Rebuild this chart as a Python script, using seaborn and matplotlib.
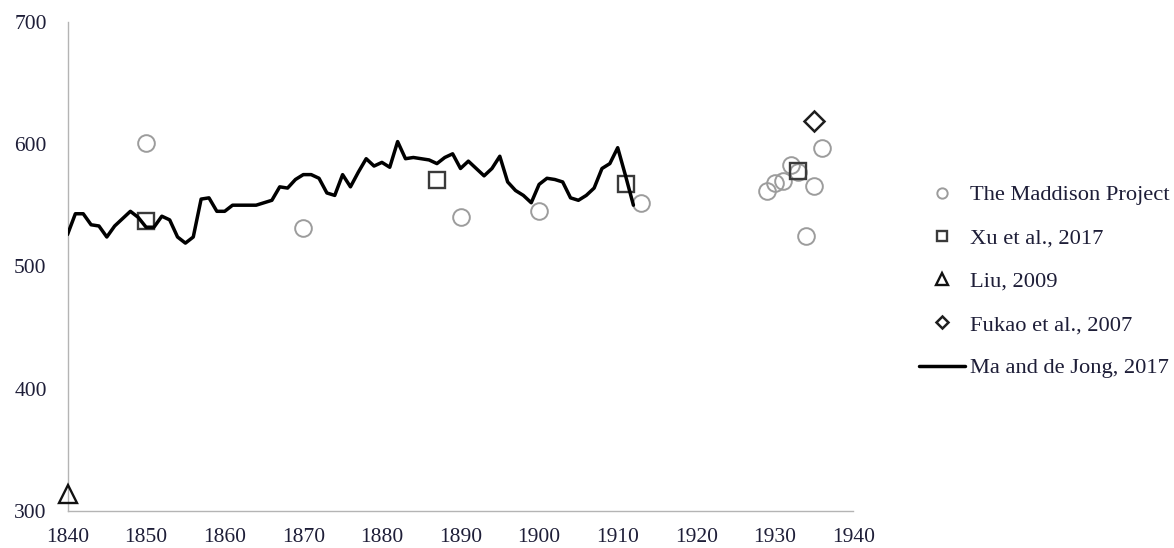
import matplotlib
matplotlib.use("Agg")
import matplotlib.pyplot as plt
import pandas as pd
import seaborn as sns

# Ma and de Jong (2017), annual series
ma_years = list(range(1840, 1913))
ma_values = [
    526, 543, 543, 534, 533, 524, 533, 539, 545, 540,
    532, 532, 541, 538, 524, 519, 524, 555, 556, 545,
    545, 550, 550, 550, 550, 552, 554, 565, 564, 571,
    575, 575, 572, 560, 558, 575, 565, 577, 588, 582,
    585, 581, 602, 588, 589, 588, 587, 584, 589, 592,
    580, 586, 580, 574, 580, 590, 569, 562, 558, 552,
    567, 572, 571, 569, 556, 554, 558, 564, 580, 584,
    597, 574, 550,
]

# Point estimates from other sources
maddison_years = [1850, 1870, 1890, 1900, 1913, 1929, 1930, 1931, 1932, 1933, 1934, 1935, 1936]
maddison_values = [601, 531, 540, 545, 552, 562, 568, 570, 583, 577, 525, 566, 597]
xu_years = [1850, 1887, 1911, 1933]
xu_values = [537, 571, 567, 578]
liu_years = [1840]
liu_values = [314]
fukao_years = [1935]
fukao_values = [619]

labels = ["The Maddison Project", "Xu et al., 2017", "Liu, 2009",
          "Fukao et al., 2007", "Ma and de Jong, 2017"]

sns.set_style("white")
plt.rcParams["font.family"] = ["Liberation Serif", "DejaVu Serif"]
text_color = "#1e1e38"
axis_gray = "#b4b4b4"
fs = 15.5

fig = plt.figure(figsize=(11.74, 5.48), dpi=100)
ax = fig.add_axes([0.0575, 0.0675, 0.6695, 0.8929])

def markers(xs, ys, label, marker, ms, mec, mew):
    df = pd.DataFrame({"year": xs, "value": ys})
    sns.lineplot(data=df, x="year", y="value", ax=ax, label=label,
                 linestyle="", marker=marker, markersize=ms,
                 markerfacecolor="none", markeredgecolor=mec,
                 markeredgewidth=mew, legend=False, zorder=3,
                 clip_on=False)

markers(maddison_years, maddison_values, labels[0], "o", 12, "#9c9c9c", 1.4)
markers(xu_years, xu_values, labels[1], "s", 11.5, "#3a3a3a", 1.7)
markers(liu_years, liu_values, labels[2], "^", 13.5, "#111111", 1.7)
markers(fukao_years, fukao_values, labels[3], "D", 10, "#1e1e1e", 1.8)

ma_df = pd.DataFrame({"year": ma_years, "value": ma_values})
sns.lineplot(data=ma_df, x="year", y="value", ax=ax, label=labels[4],
             color="black", linewidth=2.5, legend=False, zorder=4)

ax.set_xlim(1840, 1940)
ax.set_ylim(300, 700)
ax.set_xticks(range(1840, 1941, 10))
ax.set_yticks(range(300, 701, 100))
ax.set_xlabel("")
ax.set_ylabel("")

for side in ["top", "right"]:
    ax.spines[side].set_visible(False)
for side in ["left", "bottom"]:
    ax.spines[side].set_color(axis_gray)
    ax.spines[side].set_linewidth(1.0)

ax.tick_params(axis="both", direction="in", length=3.5, width=1.0,
               color=axis_gray, labelsize=fs, labelcolor=text_color)
ax.tick_params(axis="x", pad=12)
ax.tick_params(axis="y", pad=15)

handles = ax.get_lines()
leg = ax.legend(handles=handles[:5], labels=labels, loc="center left",
                bbox_to_anchor=(0.7828, 0.4863), bbox_transform=fig.transFigure,
                frameon=False, fontsize=16.2, markerscale=0.62,
                handlelength=2.05, handletextpad=0.2, labelspacing=1.0,
                borderpad=0, borderaxespad=0)
for t in leg.get_texts():
    t.set_color(text_color)

fig.savefig("out.png", dpi=100)
